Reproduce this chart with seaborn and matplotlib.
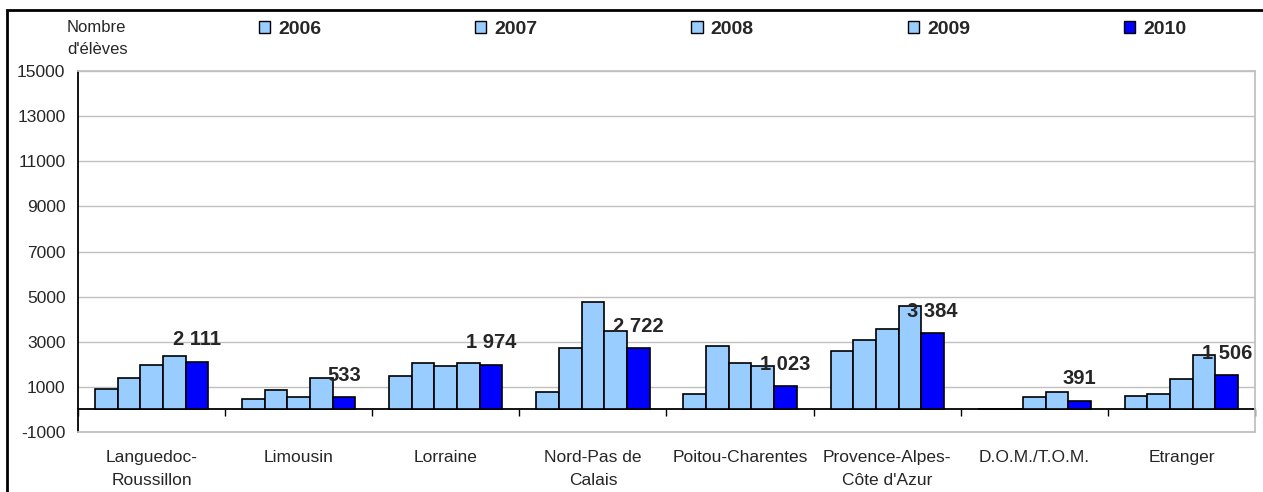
import matplotlib
matplotlib.use("Agg")
import matplotlib.pyplot as plt
import matplotlib.patches as mpatches
import seaborn as sns
import pandas as pd
import numpy as np

regions = ["Languedoc-\nRoussillon", "Limousin", "Lorraine", "Nord-Pas de\nCalais",
           "Poitou-Charentes", "Provence-Alpes-\nCôte d'Azur", "D.O.M./T.O.M.", "Etranger"]
years = ["2006", "2007", "2008", "2009", "2010"]
v2006 = [920, 480, 1490, 775, 700, 2585, 0, 610]
v2007 = [1415, 850, 2060, 2715, 2790, 3065, 0, 700]
v2008 = [1985, 540, 1910, 4745, 2060, 3575, 555, 1360]
v2009 = [2350, 1415, 2040, 3490, 1910, 4600, 775, 2410]
v2010 = [2111, 533, 1974, 2722, 1023, 3384, 391, 1506]
yticks = list(range(-1000, 15001, 2000))
ylabel_txt = "Nombre\nd'élèves"

series = dict(zip(years, [v2006, v2007, v2008, v2009, v2010]))
df = pd.DataFrame([{"region": r, "year": y, "value": series[y][i]}
                   for y in years for i, r in enumerate(regions)])

sns.set_style("white")
plt.rcParams['font.family'] = ['Liberation Sans', 'DejaVu Sans']

W, H = 1263, 492
fig = plt.figure(figsize=(W / 100, H / 100), dpi=100)
ax = fig.add_axes([78 / W, 1 - 432 / H, (1255 - 78) / W, (432 - 71) / H])

light = "#99CCFF"
palette = {"2006": light, "2007": light, "2008": light, "2009": light, "2010": "#0000FF"}
sns.barplot(data=df, x="region", y="value", hue="year", hue_order=years,
            order=regions, palette=palette, edgecolor="black", linewidth=1.2,
            width=0.77, saturation=1, ax=ax, legend=False, zorder=3)

ax.set_ylim(-1000, 15000)
ax.set_xlim(-0.5, len(regions) - 0.5)
ax.set_yticks(yticks)
ax.set_yticklabels([str(t) for t in yticks], fontsize=12.5)
ax.tick_params(axis="y", direction="out", length=6, width=1, color="black", pad=3)
ax.tick_params(axis="x", length=0, pad=13, labelsize=12.5)
for lab in ax.get_xticklabels():
    lab.set_linespacing(1.7)
ax.set_xlabel("")
ax.set_ylabel("")
ax.yaxis.grid(True, color="#C0C0C0", linewidth=1, zorder=0)
ax.set_axisbelow(True)
for s in ["top", "right", "bottom"]:
    ax.spines[s].set_color("#C0C0C0")
    ax.spines[s].set_linewidth(1.3)
ax.spines["left"].set_color("black")
ax.spines["left"].set_linewidth(1.3)

# zero axis line with category separator ticks
zero_frac = (0 - (-1000)) / (15000 - (-1000))
sec = ax.secondary_xaxis(zero_frac)
sec.set_xticks(np.arange(-0.5, len(regions), 1.0))
sec.set_xticklabels([])
sec.tick_params(direction="out", length=5, width=1, color="black")
sec.spines["bottom"].set_color("black")
sec.spines["bottom"].set_linewidth(1.3)

# value labels on 2010 bars
cont = ax.containers[-1]
labels = [f"{v:,}".replace(",", " ") for v in v2010]
ax.bar_label(cont, labels=labels, padding=9, fontsize=14.5, fontweight="bold")

# legend
handles = [mpatches.Patch(facecolor=palette[yr], edgecolor="black", linewidth=1) for yr in years]
fig.legend(handles, years, loc="center left", bbox_to_anchor=(259 / W, 1 - 29.5 / H),
           ncol=5, frameon=False, prop={"weight": "bold", "size": 14},
           handlelength=0.58, handleheight=0.58, handletextpad=0.42,
           columnspacing=7.9, borderpad=0, borderaxespad=0)

fig.text(67 / W, 1 - 20 / H, ylabel_txt, fontsize=12, va="top", ha="left", linespacing=1.6)

# outer frame
frame = mpatches.Rectangle((7 / W, -0.5), 1.0, (1 - 10 / H) + 0.5, transform=fig.transFigure,
                           fill=False, edgecolor="black", linewidth=2, clip_on=False)
fig.patches.append(frame)

fig.savefig("out.png", dpi=100)
